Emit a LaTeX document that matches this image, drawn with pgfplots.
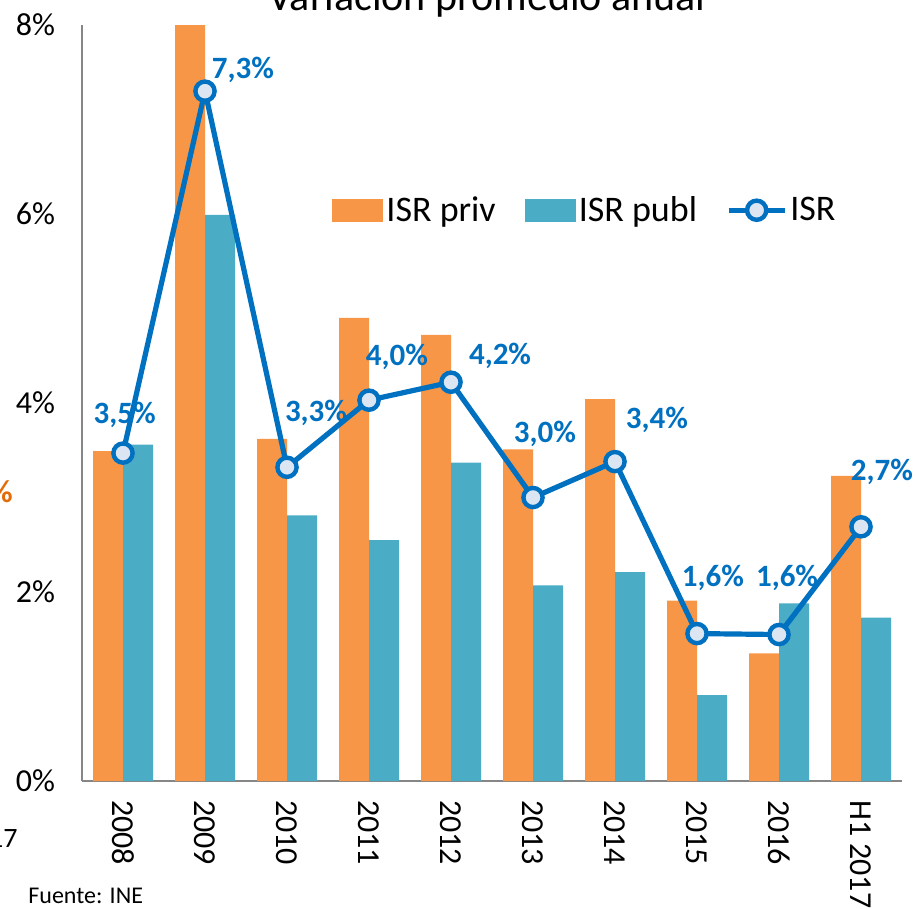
\documentclass[border=0pt]{standalone}
\usepackage{pgfplots}
\pgfplotsset{compat=1.18}
\usepackage{fontspec}
\setmainfont{Carlito}
\definecolor{cpriv}{HTML}{F79646}
\definecolor{cpubl}{HTML}{4BACC6}
\definecolor{cisr}{HTML}{0070C0}
\definecolor{cfill}{HTML}{DCE6F2}
\definecolor{caxis}{HTML}{868686}
\definecolor{corg}{HTML}{E36C09}
\begin{document}
\begin{tikzpicture}
\useasboundingbox (0pt,0pt) rectangle (458.5pt,-454.5pt);
\clip (0pt,0pt) rectangle (458.5pt,-454.5pt);
\node[anchor=base, font=\fontsize{21}{25}\selectfont] at (243.5pt,-5.3pt) {Variación promedio anual};
\node[anchor=base west, font=\fontsize{12}{14}\selectfont, inner sep=0pt] at (14pt,-451.5pt) {Fuente: INE};
\node[anchor=base east, font=\fontsize{14}{17}\selectfont, inner sep=0pt] at (9pt,-423.5pt) {17};
\node[anchor=east, font=\bfseries\fontsize{16}{18}\selectfont, text=corg, inner sep=0pt] at (6.5pt,-246pt) {\%};
\begin{axis}[
  at={(41pt,-390.5pt)}, anchor=south west,
  scale only axis, width=410pt, height=378pt,
  xmin=-0.5, xmax=9.5, ymin=0, ymax=8,
  axis x line=bottom, axis y line=left,
  axis line style={-, draw=caxis, line width=0.75pt},
  xtick={0,1,2,3,4,5,6,7,8,9},
  xticklabels={2008,2009,2010,2011,2012,2013,2014,2015,2016,H1 2017},
  ytick={0,2,4,6,8},
  yticklabels={0\%,2\%,4\%,6\%,8\%},
  major tick length=0pt,
  tick style={draw=none},
  /pgf/number format/assume math mode=true,
  xticklabel style={rotate=-90, anchor=west, font=\fontsize{16}{19}\selectfont, xshift=6pt},
  yticklabel style={font=\fontsize{16}{19}\selectfont, xshift=-10pt},
  clip=false,
  legend columns=3,
  legend style={at={(0.305,0.755)}, anchor=west, draw=none, fill=none,
    font=\fontsize{18}{21}\selectfont, inner sep=0pt,
    /tikz/every even column/.append style={column sep=13pt},
    nodes={inner sep=1.5pt}},
]
\addplot[ybar, bar width=15pt, bar shift=-7.5pt, fill=cpriv, draw=none,
  legend image code/.code={\fill[cpriv] (0pt,-5.75pt) rectangle (25.5pt,5.75pt);}]
  coordinates {(0,3.49) (1,8.0) (2,3.62) (3,4.90) (4,4.72) (5,3.51) (6,4.04) (7,1.91) (8,1.35) (9,3.23)};
\addlegendentry{ISR priv}
\addplot[ybar, bar width=15pt, bar shift=7.5pt, fill=cpubl, draw=none,
  legend image code/.code={\fill[cpubl] (0pt,-5.75pt) rectangle (25.5pt,5.75pt);}]
  coordinates {(0,3.56) (1,5.99) (2,2.81) (3,2.55) (4,3.37) (5,2.07) (6,2.21) (7,0.91) (8,1.88) (9,1.73)};
\addlegendentry{ISR publ}
\addplot[draw=cisr, line width=2.6pt, mark=*, mark size=4.8pt,
  mark options={fill=cfill, draw=cisr, line width=2.2pt},
  legend image code/.code={\draw[cisr, line width=2.6pt] (0pt,0pt) -- (28pt,0pt);
    \draw[cisr, fill=cfill, line width=2.2pt] (14pt,0pt) circle (4.8pt);}]
  coordinates {(0,3.47) (1,7.30) (2,3.32) (3,4.03) (4,4.22) (5,3.00) (6,3.38) (7,1.56) (8,1.55) (9,2.69)};
\addlegendentry{ISR}
\begin{scope}[every node/.style={text=cisr, font=\bfseries\fontsize{15.5}{18}\selectfont, inner sep=0pt}]
\node at (axis cs:0.02,3.87) {3,5\%};
\node at (axis cs:1.463,7.52) {7,3\%};
\node at (axis cs:2.354,3.90) {3,3\%};
\node at (axis cs:3.341,4.49) {4,0\%};
\node at (axis cs:4.598,4.50) {4,2\%};
\node at (axis cs:5.146,3.67) {3,0\%};
\node at (axis cs:6.512,3.82) {3,4\%};
\node at (axis cs:7.195,2.15) {1,6\%};
\node at (axis cs:8.098,2.15) {1,6\%};
\node at (axis cs:9.256,3.27) {2,7\%};
\end{scope}
\end{axis}
\end{tikzpicture}
\end{document}
